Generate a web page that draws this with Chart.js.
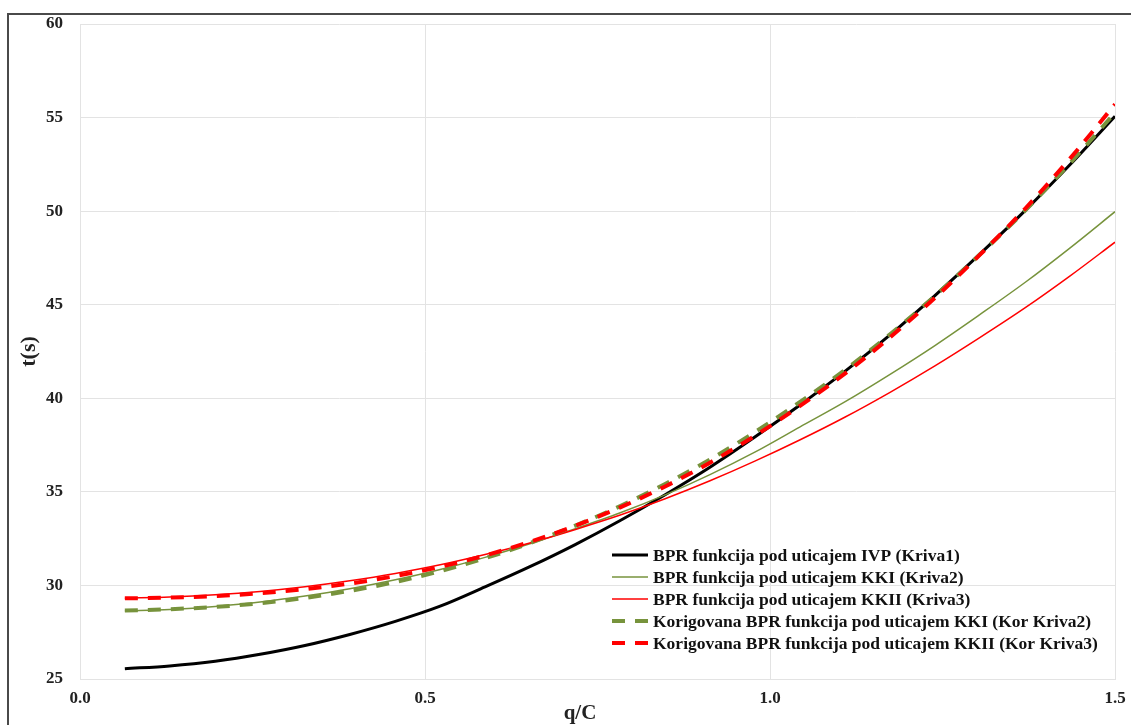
<!DOCTYPE html>
<html>
<head>
<meta charset="utf-8">
<title>BPR funkcija</title>
<script src="https://cdn.jsdelivr.net/npm/chart.js@4.4.1/dist/chart.umd.min.js"></script>
<style>
  html, body { margin: 0; padding: 0; background: #fff; }
  #wrap { position: relative; width: 1131px; height: 725px; overflow: hidden; }
  #frame { position: absolute; left: 7px; top: 13px; width: 1200px; height: 800px;
           border-left: 2px solid #4a4a4a; border-top: 2px solid #4a4a4a; }
  #chart { position: absolute; left: 0; top: 0; }
</style>
</head>
<body>
<div id="wrap">
  <div id="frame"></div>
  <canvas id="chart" width="1131" height="725"></canvas>
</div>
<script>
// q/C values (x axis)
const qValues = [0.065, 0.130, 0.196, 0.261, 0.326, 0.391, 0.457, 0.522, 0.587, 0.652, 0.717, 0.783,
                 0.848, 0.913, 0.978, 1.043, 1.109, 1.174, 1.239, 1.304, 1.370, 1.435, 1.500];

// t(s) for each curve
const kriva1 = [25.55, 25.70, 25.95, 26.32, 26.79, 27.38, 28.08, 28.89, 29.92, 31.00, 32.17, 33.47,
                34.85, 36.32, 37.93, 39.63, 41.45, 43.39, 45.49, 47.70, 50.04, 52.49, 55.07];
const kriva2 = [28.63, 28.72, 28.88, 29.11, 29.43, 29.82, 30.30, 30.85, 31.50, 32.23, 33.02, 33.88,
                34.84, 35.92, 37.12, 38.46, 39.82, 41.28, 42.82, 44.47, 46.20, 48.04, 49.97];
const kriva3 = [29.32, 29.38, 29.50, 29.68, 29.93, 30.25, 30.64, 31.10, 31.65, 32.27, 32.98, 33.76,
                34.63, 35.59, 36.64, 37.77, 39.00, 40.32, 41.73, 43.24, 44.84, 46.54, 48.34];
const korKriva2 = [28.66, 28.73, 28.85, 29.05, 29.33, 29.71, 30.18, 30.76, 31.45, 32.26, 33.18, 34.24,
                   35.42, 36.73, 38.19, 39.79, 41.53, 43.42, 45.47, 47.68, 50.04, 52.57, 55.26];
const korKriva3 = [29.31, 29.35, 29.43, 29.58, 29.80, 30.10, 30.50, 30.99, 31.60, 32.33, 33.18, 34.17,
                   35.29, 36.56, 37.99, 39.58, 41.33, 43.26, 45.37, 47.66, 50.14, 52.82, 55.71];

const seriesLabels = [
  'BPR funkcija pod uticajem IVP (Kriva1)',
  'BPR funkcija pod uticajem KKI (Kriva2)',
  'BPR funkcija pod uticajem KKII (Kriva3)',
  'Korigovana BPR funkcija pod uticajem KKI (Kor Kriva2)',
  'Korigovana BPR funkcija pod uticajem KKII (Kor Kriva3)'
];

const xTicks = [0, 0.5, 1.0, 1.5];
const xTitle = 'q/C';

const OLIVE = '#77933c';
const RED = '#ff0000';
const GRID = '#e3e3e3';
const FONT = "'Liberation Serif', 'DejaVu Serif', serif";

function pts(values) {
  return qValues.map((q, i) => ({ x: q, y: values[i] }));
}

function line(label, values, color, width, dash, order) {
  return {
    label,
    data: pts(values),
    borderColor: color,
    backgroundColor: color,
    borderWidth: width,
    borderDash: dash,
    borderCapStyle: 'butt',
    pointRadius: 0,
    tension: 0.4,
    cubicInterpolationMode: 'monotone',
    fill: false,
    order
  };
}

// Legend inside the plot area + x axis title (sits left of centre in the original)
const insideLegend = {
  id: 'insideLegend',
  afterDraw(chart) {
    const ctx = chart.ctx;
    const x0 = 612, lineLen = 36, textX = 653;
    const rows = [555, 577, 599, 621, 643];
    ctx.save();
    ctx.font = 'bold 17.5px ' + FONT;
    ctx.textBaseline = 'middle';
    ctx.fillStyle = '#111';
    chart.data.datasets.forEach((ds, i) => {
      const y = rows[i];
      ctx.beginPath();
      ctx.strokeStyle = ds.borderColor;
      ctx.lineWidth = ds.borderWidth;
      ctx.setLineDash(ds.borderDash || []);
      ctx.moveTo(x0, y);
      ctx.lineTo(x0 + lineLen, y);
      ctx.stroke();
      ctx.setLineDash([]);
      ctx.fillText(ds.label, textX, y + 1);
    });

    ctx.font = 'bold 21px ' + FONT;
    ctx.fillStyle = '#222';
    ctx.textAlign = 'center';
    ctx.fillText(xTitle, 580, 714);
    ctx.restore();
  }
};

new Chart(document.getElementById('chart'), {
  type: 'line',
  data: {
    datasets: [
      line(seriesLabels[0], kriva1, '#000000', 3, [], 5),
      line(seriesLabels[1], kriva2, OLIVE, 1.5, [], 4),
      line(seriesLabels[2], kriva3, RED, 1.5, [], 3),
      line(seriesLabels[3], korKriva2, OLIVE, 4, [13, 10], 2),
      line(seriesLabels[4], korKriva3, RED, 4, [13, 10], 1)
    ]
  },
  options: {
    responsive: false,
    animation: false,
    layout: { padding: { top: 24, right: 16, left: 0, bottom: 0 } },
    plugins: { legend: { display: false }, tooltip: { enabled: false } },
    scales: {
      x: {
        type: 'linear',
        min: 0,
        max: 1.5,
        afterBuildTicks: s => { s.ticks = xTicks.map(v => ({ value: v })); },
        afterFit: s => { s.height = 46; s.paddingLeft = 0; s.paddingRight = 0; },
        ticks: {
          callback: v => Number(v).toFixed(1),
          color: '#222',
          font: { family: FONT, weight: 'bold', size: 17 },
          padding: 9,
          maxRotation: 0
        },
        grid: { color: GRID, drawTicks: false },
        border: { color: GRID }
      },
      y: {
        min: 25,
        max: 60,
        afterFit: s => { s.width = 80; s.paddingTop = 0; s.paddingBottom = 0; },
        ticks: {
          stepSize: 5,
          color: '#222',
          font: { family: FONT, weight: 'bold', size: 17 },
          padding: 17
        },
        grid: { color: GRID, drawTicks: false },
        border: { color: GRID },
        title: {
          display: true,
          text: 't(s)',
          color: '#222',
          font: { family: FONT, weight: 'bold', size: 22 },
          padding: { top: 16, bottom: 0 }
        }
      }
    }
  },
  plugins: [insideLegend]
});
</script>
</body>
</html>
